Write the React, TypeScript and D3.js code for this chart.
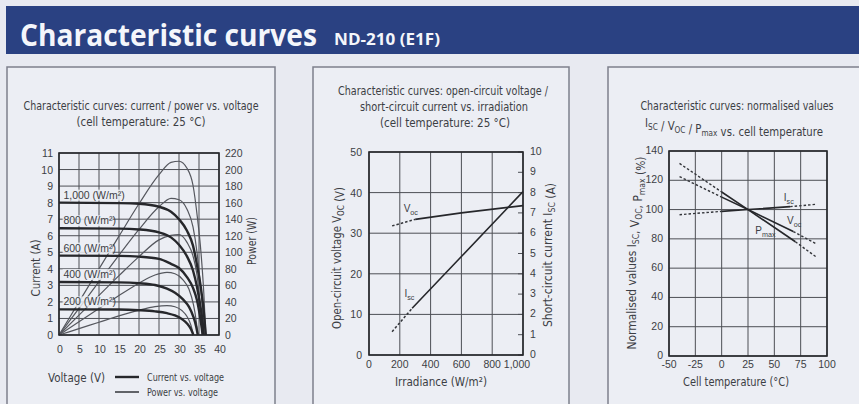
import React from 'react';
import * as d3 from 'd3';

const W = 859;
const H = 404;

// ---- panel 1: current / power vs voltage ----
const voltTicks = [0, 5, 10, 15, 20, 25, 30, 35, 40];
const currentTicks = [0, 1, 2, 3, 4, 5, 6, 7, 8, 9, 10, 11];
const powerTicks = [0, 20, 40, 60, 80, 100, 120, 140, 160, 180, 200, 220];
const irradianceLabels = ['1,000', '800', '600', '400', '200'];
const labelCurrent = [8.0, 6.45, 4.8, 3.2, 1.55];

const iv1000: [number, number][] = [[0, 8.0], [15, 7.97], [20, 7.93], [25, 7.75], [28, 7.45], [30, 7.0], [32, 6.3], [33.5, 5.4], [34.6, 4.1], [35.5, 2.8], [36.2, 1.4], [36.7, 0]];
const iv800: [number, number][] = [[0, 6.45], [15, 6.43], [20, 6.38], [25, 6.2], [28, 5.9], [30, 5.45], [32, 4.75], [33.5, 3.9], [34.5, 2.9], [35.3, 1.8], [35.9, 0.8], [36.2, 0]];
const iv600: [number, number][] = [[0, 4.8], [15, 4.78], [20, 4.74], [25, 4.6], [28, 4.3], [30, 4.05], [32, 3.5], [33.5, 2.85], [34.5, 2.1], [35.2, 1.2], [35.7, 0.4], [35.9, 0]];
const iv400: [number, number][] = [[0, 3.2], [15, 3.18], [20, 3.13], [24, 3.02], [27, 2.8], [29, 2.55], [31, 2.15], [32.5, 1.7], [33.6, 1.1], [34.3, 0.5], [34.7, 0]];
const iv200: [number, number][] = [[0, 1.55], [15, 1.54], [20, 1.5], [24, 1.43], [27, 1.32], [29, 1.18], [30.8, 0.95], [32, 0.7], [33, 0.35], [33.6, 0]];

const pv1000: [number, number][] = [[0, 0], [5, 40], [10, 80], [15, 119.5], [20, 158.6], [25, 193.8], [28, 208.6], [30, 210], [32, 201.6], [33.5, 181], [34.6, 142], [35.5, 99.4], [36.2, 50.7], [36.7, 0]];
const pv800: [number, number][] = [[0, 0], [5, 32.2], [10, 64.4], [15, 96.5], [20, 127.6], [25, 155], [28, 165.2], [30, 163.5], [32, 152], [33.5, 130.7], [34.5, 100], [35.3, 63.5], [35.9, 28.7], [36.2, 0]];
const pv600: [number, number][] = [[0, 0], [5, 24], [10, 47.9], [15, 71.7], [20, 94.8], [25, 115], [28, 120.4], [30, 121.5], [32, 112], [33.5, 95.5], [34.5, 72.5], [35.2, 42.2], [35.7, 14.3], [35.9, 0]];
const pv400: [number, number][] = [[0, 0], [5, 16], [10, 31.9], [15, 47.7], [20, 62.6], [24, 72.5], [27, 75.6], [29, 74], [31, 66.7], [32.5, 55.3], [33.6, 37], [34.3, 17.2], [34.7, 0]];
const pv200: [number, number][] = [[0, 0], [5, 7.7], [10, 15.4], [15, 23.1], [20, 30], [24, 34.3], [27, 35.6], [29, 34.2], [30.8, 29.3], [32, 22.4], [33, 11.6], [33.6, 0]];

const ivCurves = [iv1000, iv800, iv600, iv400, iv200];
const pvCurves = [pv1000, pv800, pv600, pv400, pv200];

// ---- panel 2: Voc / Isc vs irradiance ----
const irrTicks = [0, 200, 400, 600, 800, 1000];
const vocTicks = [0, 10, 20, 30, 40, 50];
const iscTicks = [0, 1, 2, 3, 4, 5, 6, 7, 8, 9, 10];
const vocDashed: [number, number][] = [[150, 31.8], [300, 33.4]];
const vocSolid: [number, number][] = [[300, 33.4], [600, 35.0], [1000, 36.8]];
const iscDashed: [number, number][] = [[150, 1.15], [280, 2.3]];
const iscSolid: [number, number][] = [[280, 2.3], [600, 4.85], [1000, 8.05]];

// ---- panel 3: normalised values vs cell temperature ----
const tempTicks = [-50, -25, 0, 25, 50, 75, 100];
const pctTicks = [0, 20, 40, 60, 80, 100, 120, 140];
const iscT = { dashL: [[-40, 96.5], [0, 98.8]], solid: [[0, 98.8], [25, 100], [65, 102]], dashR: [[65, 102], [90, 103.6]] };
const vocT = { dashL: [[-40, 122.5], [0, 108.5]], solid: [[0, 108.5], [25, 100], [68, 85]], dashR: [[68, 85], [90, 76.5]] };
const pmaxT = { dashL: [[-40, 131.5], [0, 112]], solid: [[0, 112], [25, 100], [70, 78]], dashR: [[70, 78], [90, 67.5]] };

const BG = '#e8eaf1';
const PANEL_BG = '#eceef4';
const GRID = '#4d4f55';
const FRAME = '#26272b';
const TXT = '#3c3e44';
const NARROW = '"DejaVu Sans Condensed", "Liberation Sans", sans-serif';
const SANS = '"Liberation Sans", Arial, sans-serif';

function Sub({ t, s }: { t: string; s: string }) {
  return (
    <>
      <tspan>{t}</tspan>
      <tspan fontSize="0.72em" dy="3">{s}</tspan>
      <tspan dy="-3">{''}</tspan>
    </>
  );
}

// condensed label text, squeezed to the width it has in the reference
function Lbl(props: any) {
  const { len, children, size = 12, ...rest } = props;
  return (
    <text fontFamily={NARROW} fontSize={size} fill={TXT} textLength={len} lengthAdjust="spacingAndGlyphs" {...rest}>
      {children}
    </text>
  );
}

function Panel1() {
  const x = d3.scaleLinear().domain([0, 40]).range([59, 219]);
  const yI = d3.scaleLinear().domain([0, 11]).range([335, 153]);
  const yP = d3.scaleLinear().domain([0, 220]).range([335, 153]);
  const ivLine = d3.line<[number, number]>().x(d => x(d[0])).y(d => yI(d[1])).curve(d3.curveMonotoneX);
  const pvLine = d3.line<[number, number]>().x(d => x(d[0])).y(d => yP(d[1])).curve(d3.curveMonotoneX);
  return (
    <g>
      <rect x={7} y={67} width={268} height={350} fill={PANEL_BG} stroke="#7d808c" strokeWidth={1.5} />
      <Lbl x={141} y={110} textAnchor="middle" len={235}>Characteristic curves: current / power vs. voltage</Lbl>
      <Lbl x={141} y={126} textAnchor="middle" len={129}>(cell temperature: 25 °C)</Lbl>
      {voltTicks.map(v => (
        <line key={'gv' + v} x1={x(v)} x2={x(v)} y1={yI(0)} y2={yI(11)} stroke={GRID} strokeWidth={1} />
      ))}
      {currentTicks.map(v => (
        <line key={'gh' + v} x1={x(0)} x2={x(40)} y1={yI(v)} y2={yI(v)} stroke={GRID} strokeWidth={1} />
      ))}
      {pvCurves.map((c, i) => (
        <path key={'pv' + i} d={pvLine(c) || ''} fill="none" stroke="#55575e" strokeWidth={1.2} />
      ))}
      {ivCurves.map((c, i) => (
        <path key={'iv' + i} d={ivLine(c) || ''} fill="none" stroke="#26272b" strokeWidth={2.4} />
      ))}
      {irradianceLabels.map((l, i) => (
        <g key={'lab' + i}>
          <rect x={x(0.9)} y={yI(labelCurrent[i]) - 13} width={l.length > 3 ? 58 : 50} height={11} fill={PANEL_BG} opacity={0.85} />
          <text x={x(1.1)} y={yI(labelCurrent[i]) - 4} fontFamily={SANS} fontSize={10.5} fill={TXT}>{l} (W/m²)</text>
        </g>
      ))}
      <rect x={x(0)} y={yI(11)} width={x(40) - x(0)} height={yI(0) - yI(11)} fill="none" stroke={FRAME} strokeWidth={1.6} />
      {currentTicks.map(v => (
        <text key={'tl' + v} x={53} y={yI(v) + 4} textAnchor="end" fontFamily={SANS} fontSize={10.5} fill={TXT}>{v}</text>
      ))}
      {powerTicks.map(v => (
        <text key={'tr' + v} x={225} y={yP(v) + 4} fontFamily={SANS} fontSize={10.5} fill={TXT}>{v}</text>
      ))}
      {voltTicks.map(v => (
        <text key={'tx' + v} x={x(v) + 1} y={353} textAnchor="middle" fontFamily={SANS} fontSize={10.5} fill={TXT}>{v}</text>
      ))}
      <Lbl transform="translate(40,268) rotate(-90)" textAnchor="middle" size={13} len={57}>Current (A)</Lbl>
      <Lbl transform="translate(256,241) rotate(-90)" textAnchor="middle" size={13} len={48}>Power (W)</Lbl>
      <Lbl x={48} y={382} size={13} len={57}>Voltage (V)</Lbl>
      <line x1={115} x2={139} y1={377} y2={377} stroke="#26272b" strokeWidth={2.4} />
      <Lbl x={147} y={381} size={11} len={77}>Current vs. voltage</Lbl>
      <line x1={115} x2={139} y1={392} y2={392} stroke="#26272b" strokeWidth={1.4} />
      <Lbl x={147} y={396} size={11} len={71}>Power vs. voltage</Lbl>
    </g>
  );
}

function Panel2() {
  const x = d3.scaleLinear().domain([0, 1000]).range([369, 523]);
  const yV = d3.scaleLinear().domain([0, 50]).range([355, 152]);
  const yI = d3.scaleLinear().domain([0, 10]).range([355, 152]);
  const vLine = d3.line<[number, number]>().x(d => x(d[0])).y(d => yV(d[1]));
  const iLine = d3.line<[number, number]>().x(d => x(d[0])).y(d => yI(d[1]));
  return (
    <g>
      <rect x={313} y={67} width={256} height={350} fill={PANEL_BG} stroke="#7d808c" strokeWidth={1.5} />
      <Lbl x={443} y={95} textAnchor="middle" len={210}>Characteristic curves: open-circuit voltage /</Lbl>
      <Lbl x={444} y={111} textAnchor="middle" len={168}>short-circuit current vs. irradiation</Lbl>
      <Lbl x={445} y={127} textAnchor="middle" len={130}>(cell temperature: 25 °C)</Lbl>
      {irrTicks.map(v => (
        <line key={'gv' + v} x1={x(v)} x2={x(v)} y1={yV(0)} y2={yV(50)} stroke={GRID} strokeWidth={1} />
      ))}
      {vocTicks.map(v => (
        <line key={'gh' + v} x1={x(0)} x2={x(1000)} y1={yV(v)} y2={yV(v)} stroke={GRID} strokeWidth={1} />
      ))}
      {iscTicks.map(v => (
        <line key={'rt' + v} x1={x(1000) - 5} x2={x(1000)} y1={yI(v)} y2={yI(v)} stroke={GRID} strokeWidth={1} />
      ))}
      <path d={vLine(vocDashed) || ''} fill="none" stroke="#33353a" strokeWidth={1.5} strokeDasharray="2.5,2" />
      <path d={vLine(vocSolid) || ''} fill="none" stroke="#26272b" strokeWidth={1.6} />
      <path d={iLine(iscDashed) || ''} fill="none" stroke="#33353a" strokeWidth={1.5} strokeDasharray="2.5,2" />
      <path d={iLine(iscSolid) || ''} fill="none" stroke="#26272b" strokeWidth={1.6} />
      <text x={x(225)} y={yV(35.3)} fontFamily={SANS} fontSize={10} fill={TXT}><Sub t="V" s="oc" /></text>
      <text x={x(230)} y={yV(14.3)} fontFamily={SANS} fontSize={10} fill={TXT}><Sub t="I" s="sc" /></text>
      <rect x={x(0)} y={yV(50)} width={x(1000) - x(0)} height={yV(0) - yV(50)} fill="none" stroke={FRAME} strokeWidth={1.6} />
      {vocTicks.map(v => (
        <text key={'tl' + v} x={362} y={yV(v) + 4} textAnchor="end" fontFamily={SANS} fontSize={10.5} fill={TXT}>{v}</text>
      ))}
      {iscTicks.map(v => (
        <text key={'tr' + v} x={530} y={yI(v) + 3} fontFamily={SANS} fontSize={10.5} fill={TXT}>{v}</text>
      ))}
      {irrTicks.map(v => (
        <text key={'tx' + v} x={v === 1000 ? x(v) - 6 : x(v)} y={368} textAnchor="middle" fontFamily={SANS} fontSize={10.5} fill={TXT}>{d3.format(',')(v)}</text>
      ))}
      <Lbl transform="translate(341,258) rotate(-90)" textAnchor="middle" size={13} len={142}>
        Open-circuit voltage <Sub t="V" s="OC" /> (V)
      </Lbl>
      <Lbl transform="translate(552,255) rotate(-90)" textAnchor="middle" size={13} len={144}>
        Short-circuit current <Sub t="I" s="SC" /> (A)
      </Lbl>
      <Lbl x={441} y={386} textAnchor="middle" size={13} len={92}>Irradiance (W/m²)</Lbl>
    </g>
  );
}

function Panel3() {
  const x = d3.scaleLinear().domain([-50, 100]).range([669, 827]);
  const y = d3.scaleLinear().domain([0, 140]).range([356, 151]);
  const line = d3.line<number[]>().x(d => x(d[0])).y(d => y(d[1]));
  const series = [iscT, vocT, pmaxT];
  return (
    <g>
      <rect x={608} y={67} width={262} height={350} fill={PANEL_BG} stroke="#7d808c" strokeWidth={1.5} />
      <Lbl x={737} y={110} textAnchor="middle" len={193}>Characteristic curves: normalised values</Lbl>
      <Lbl x={734} y={127} textAnchor="middle" len={178}>
        <Sub t="I" s="SC" /> / <Sub t="V" s="OC" /> / <Sub t="P" s="max" /> vs. cell temperature
      </Lbl>
      {tempTicks.map(v => (
        <line key={'gv' + v} x1={x(v)} x2={x(v)} y1={y(0)} y2={y(140)} stroke={GRID} strokeWidth={1} />
      ))}
      {pctTicks.map(v => (
        <line key={'gh' + v} x1={x(-50)} x2={x(100)} y1={y(v)} y2={y(v)} stroke={GRID} strokeWidth={1} />
      ))}
      {series.map((s, i) => (
        <g key={'s' + i}>
          <path d={line(s.dashL) || ''} fill="none" stroke="#33353a" strokeWidth={1.4} strokeDasharray="2.5,2" />
          <path d={line(s.solid) || ''} fill="none" stroke="#26272b" strokeWidth={1.6} />
          <path d={line(s.dashR) || ''} fill="none" stroke="#33353a" strokeWidth={1.4} strokeDasharray="2.5,2" />
        </g>
      ))}
      <text x={x(59)} y={y(106)} fontFamily={SANS} fontSize={10} fill={TXT}><Sub t="I" s="sc" /></text>
      <text x={x(62)} y={y(90)} fontFamily={SANS} fontSize={10} fill={TXT}><Sub t="V" s="oc" /></text>
      <text x={x(32)} y={y(83)} fontFamily={SANS} fontSize={10} fill={TXT}><Sub t="P" s="max" /></text>
      <rect x={x(-50)} y={y(140)} width={x(100) - x(-50)} height={y(0) - y(140)} fill="none" stroke={FRAME} strokeWidth={1.6} />
      {pctTicks.map(v => (
        <text key={'tl' + v} x={663} y={y(v) + 3} textAnchor="end" fontFamily={SANS} fontSize={10.5} fill={TXT}>{v}</text>
      ))}
      {tempTicks.map(v => (
        <text key={'tx' + v} x={x(v)} y={368} textAnchor="middle" fontFamily={SANS} fontSize={10.5} fill={TXT}>{v}</text>
      ))}
      <Lbl transform="translate(636,253) rotate(-90)" textAnchor="middle" size={13} len={193}>
        Normalised values <Sub t="I" s="SC" />, <Sub t="V" s="OC" />, <Sub t="P" s="max" /> (%)
      </Lbl>
      <Lbl x={736} y={386} textAnchor="middle" size={13} len={106}>Cell temperature (°C)</Lbl>
    </g>
  );
}

export default function App() {
  return (
    <svg width={W} height={H} style={{ position: 'absolute', left: 0, top: 0 }}>
      <rect width={W} height={H} fill={BG} />
      <rect x={6} y={6} width={W} height={48} fill="#2a4182" />
      <text y={46} fontFamily='"Open Sans", sans-serif' fontWeight={700} fill="#f4f6fb">
        <tspan x={20} fontSize={31} textLength={297} lengthAdjust="spacingAndGlyphs">Characteristic curves</tspan>
        <tspan x={334} dy={-1} fontSize={16} textLength={106} lengthAdjust="spacingAndGlyphs">ND-210 (E1F)</tspan>
      </text>
      <Panel1 />
      <Panel2 />
      <Panel3 />
    </svg>
  );
}
